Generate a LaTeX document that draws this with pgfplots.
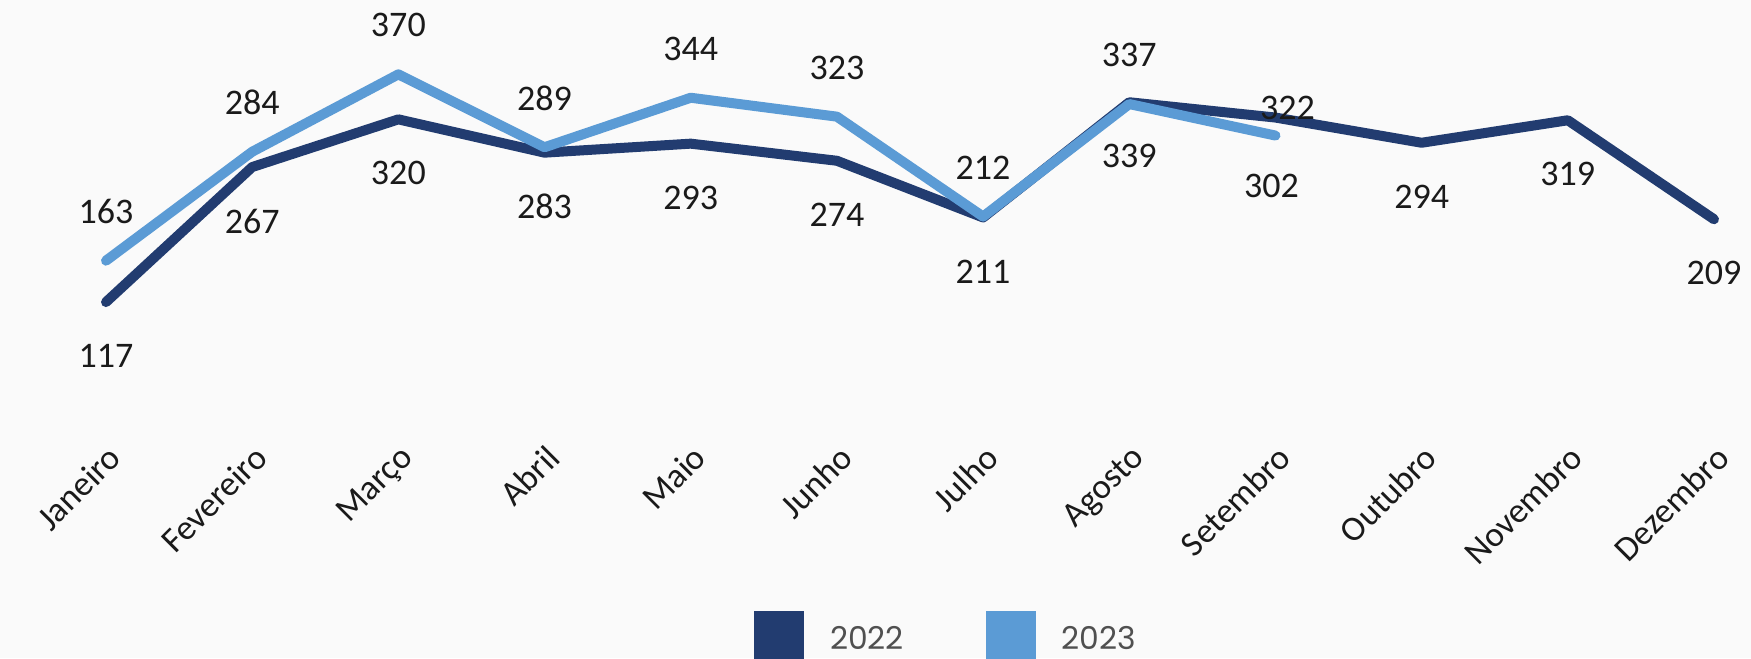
\documentclass[border=0pt]{standalone}
\usepackage{pgfplots}
\pgfplotsset{compat=1.18}
\usepackage{pgfplotstable}
\usepackage{fontspec}
\setmainfont{Carlito}
\newfontfamily\legfont{Poppins}
\definecolor{dark}{HTML}{223C70}
\definecolor{light}{HTML}{5B9BD5}
\definecolor{bg}{HTML}{FAFAFA}
\definecolor{labtxt}{HTML}{1A1A1A}
\definecolor{legtxt}{HTML}{505050}

\pgfplotstableread{
x y dy dx lab
0 117 -27 0 117
1 267 -27 0 267
2 320 -27 0 320
3 283 -27 0 283
4 293 -27 0 293
5 274 -27 0 274
6 211 -27 0 211
7 339 -27 0 339
8 322 5 6 322
9 294 -27 0 294
10 319 -27 0 319
11 209 -27 0 209
}\dataA

\pgfplotstableread{
x y dy dx lab
0 163 24.5 0 163
1 284 24.5 0 284
2 370 24.5 0 370
3 289 24.5 0 289
4 344 24.5 0 344
5 323 24.5 0 323
6 212 24.5 0 212
7 337 24.5 0 337
8 302 -25 -2 302
}\dataB

\begin{document}
\begin{tikzpicture}
\fill[bg] (-53pt,-109.15pt) rectangle (822.5pt,219.9pt);
\begin{axis}[
  at={(0,0)}, anchor=south west,
  scale only axis, width=804pt, height=219.9pt,
  xmin=0, xmax=11, ymin=-36, ymax=452.6,
  clip=false,
  axis line style={draw=none},
  major tick length=0pt,
  ytick=\empty,
  xtick={0,...,11},
  xticklabels={Janeiro,Fevereiro,Março,Abril,Maio,Junho,Julho,Agosto,Setembro,Outubro,Novembro,Dezembro},
  xticklabel style={rotate=45, anchor=north east, inner sep=1pt,
    font=\fontsize{17.5}{17.5}\selectfont, text=labtxt},
  legend columns=2,
  legend style={at={(0.403,-0.4463)}, anchor=west, draw=none, fill=none,
    inner sep=0pt, outer sep=0pt,
    nodes={inner sep=0pt, font=\legfont\fontsize{15.7}{15.7}\selectfont, text=legtxt},
    /tikz/every odd column/.append style={column sep=13pt},
    /tikz/every even column/.append style={column sep=41pt}},
  nodes near coords,
  point meta=explicit symbolic,
  visualization depends on={\thisrow{dy} \as \dy},
  visualization depends on={\thisrow{dx} \as \dx},
  every node near coord/.append style={anchor=center, yshift=\dy pt, xshift=\dx pt,
    font=\fontsize{18}{18}\selectfont, text=labtxt},
]
\addplot[dark, line width=5pt, line join=round, line cap=round,
  legend image code/.code={\path[fill=dark, draw=none] (0pt,-10.75pt) rectangle (25pt,14.25pt);}]
  table[x=x, y=y, meta=lab] {\dataA};
\addlegendentry{2022}
\addplot[light, line width=5pt, line join=round, line cap=round,
  legend image code/.code={\path[fill=light, draw=none] (0pt,-10.75pt) rectangle (25pt,14.25pt);}]
  table[x=x, y=y, meta=lab] {\dataB};
\addlegendentry{2023}
\end{axis}
\pgfresetboundingbox
\path (-53pt,-109.15pt) rectangle (822.5pt,219.9pt);
\end{tikzpicture}
\end{document}
